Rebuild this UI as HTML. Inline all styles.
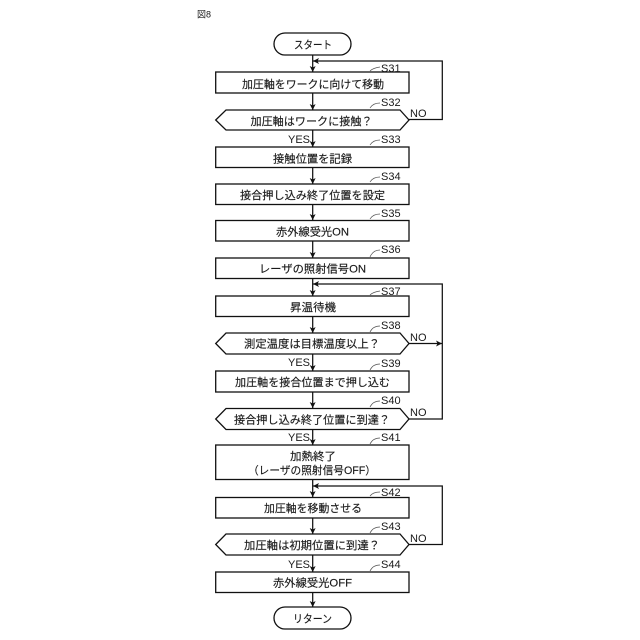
<!DOCTYPE html>
<html><head><meta charset="utf-8"><style>
html,body{margin:0;padding:0;background:#fff}
svg{display:block}
text{font-family:"Liberation Sans","Noto Sans CJK JP",sans-serif;fill:#1a1a1a}
.t{font-size:11px;text-anchor:middle;stroke:#1a1a1a;stroke-width:.15}
.l{font-size:11px}
.s{fill:#fff;stroke:#111;stroke-width:1.3}
.c{fill:none;stroke:#111;stroke-width:1.25}
.q{fill:none;stroke:#555;stroke-width:.7}
</style></head><body>
<svg width="640" height="640" viewBox="0 0 640 640" xmlns="http://www.w3.org/2000/svg">
<defs>
<marker id="a" markerUnits="userSpaceOnUse" markerWidth="7" markerHeight="7" refX="6" refY="3" orient="auto"><path d="M0 0L6 3L0 6L1.5 3z" fill="#111"/></marker>
</defs>
<text x="197" y="17.5" style="font-size:9px">図8</text>

<!-- vertical flow connectors -->
<path class="c" marker-end="url(#a)" d="M312.7 55V72"/>
<path class="c" marker-end="url(#a)" d="M312.7 93V110"/>
<path class="c" marker-end="url(#a)" d="M312.7 130V147"/>
<path class="c" marker-end="url(#a)" d="M312.7 167V184"/>
<path class="c" marker-end="url(#a)" d="M312.7 204V220"/>
<path class="c" marker-end="url(#a)" d="M312.7 241V258"/>
<path class="c" marker-end="url(#a)" d="M312.7 278V296"/>
<path class="c" marker-end="url(#a)" d="M312.7 317V333"/>
<path class="c" marker-end="url(#a)" d="M312.7 354V371"/>
<path class="c" marker-end="url(#a)" d="M312.7 392V408"/>
<path class="c" marker-end="url(#a)" d="M312.7 430V445"/>
<path class="c" marker-end="url(#a)" d="M312.7 480V497"/>
<path class="c" marker-end="url(#a)" d="M312.7 518V534"/>
<path class="c" marker-end="url(#a)" d="M312.7 555V572"/>
<path class="c" marker-end="url(#a)" d="M312.7 592V607"/>

<!-- loops -->
<path class="c" marker-end="url(#a)" d="M409 119.5H442.3V61H313"/>
<path class="c" marker-end="url(#a)" d="M409 419H442.3V284H313"/>
<path class="c" marker-end="url(#a)" d="M409 343.5H442"/>
<path class="c" marker-end="url(#a)" d="M409 544.5H442.3V486H313"/>

<!-- terminals -->
<rect class="s" x="274" y="33" width="77" height="22" rx="11"/>
<text class="t" x="313" y="48.5" textLength="38" lengthAdjust="spacingAndGlyphs">スタート</text>
<rect class="s" x="274" y="607" width="77" height="22" rx="11"/>
<text class="t" x="312.5" y="622.5" textLength="39" lengthAdjust="spacingAndGlyphs">リターン</text>

<!-- S31 -->
<rect class="s" x="215.7" y="72" width="193.3" height="21"/>
<text class="t" x="313" y="88" textLength="142" lengthAdjust="spacingAndGlyphs">加圧軸をワークに向けて移動</text>
<!-- S32 -->
<path class="s" d="M226 110H400L409 120L400 130H226L215.7 120z"/>
<text class="t" x="311.5" y="125" textLength="122" lengthAdjust="spacingAndGlyphs">加圧軸はワークに接触？</text>
<!-- S33 -->
<rect class="s" x="215.7" y="147" width="193.3" height="20.5"/>
<text class="t" x="312.5" y="162.5" textLength="79" lengthAdjust="spacingAndGlyphs">接触位置を記録</text>
<!-- S34 -->
<rect class="s" x="215.7" y="184" width="193.3" height="20.5"/>
<text class="t" x="312.5" y="199" textLength="145" lengthAdjust="spacingAndGlyphs">接合押し込み終了位置を設定</text>
<!-- S35 -->
<rect class="s" x="215.7" y="220.5" width="193.3" height="20.5"/>
<text class="t" x="312.5" y="235.5" textLength="73" lengthAdjust="spacingAndGlyphs">赤外線受光ON</text>
<!-- S36 -->
<rect class="s" x="215.7" y="258" width="193.3" height="20.5"/>
<text class="t" x="312.5" y="272.5" textLength="107" lengthAdjust="spacingAndGlyphs">レーザの照射信号ON</text>
<!-- S37 -->
<rect class="s" x="215.7" y="296" width="193.3" height="20.5"/>
<text class="t" x="313" y="311" textLength="46" lengthAdjust="spacingAndGlyphs">昇温待機</text>
<!-- S38 -->
<path class="s" d="M226 333H400L409 343.5L400 354H226L215.7 343.5z"/>
<text class="t" x="312" y="347.5" textLength="136" lengthAdjust="spacingAndGlyphs">測定温度は目標温度以上？</text>
<!-- S39 -->
<rect class="s" x="215.7" y="371" width="193.3" height="21"/>
<text class="t" x="312.5" y="386" textLength="155" lengthAdjust="spacingAndGlyphs">加圧軸を接合位置まで押し込む</text>
<!-- S40 -->
<path class="s" d="M226 408.5H400L409 419L400 429.5H226L215.7 419z"/>
<text class="t" x="312" y="423.5" textLength="156" lengthAdjust="spacingAndGlyphs">接合押し込み終了位置に到達？</text>
<!-- S41 -->
<rect class="s" x="215.7" y="445" width="193.3" height="34.5"/>
<text class="t" x="313" y="460" textLength="46" lengthAdjust="spacingAndGlyphs">加熱終了</text>
<text class="t" x="312" y="474" textLength="128" lengthAdjust="spacingAndGlyphs">（レーザの照射信号OFF）</text>
<!-- S42 -->
<rect class="s" x="215.7" y="497.5" width="193.3" height="20.5"/>
<text class="t" x="313" y="512" textLength="98" lengthAdjust="spacingAndGlyphs">加圧軸を移動させる</text>
<!-- S43 -->
<path class="s" d="M226 534H400L409 544.5L400 555H226L215.7 544.5z"/>
<text class="t" x="312" y="549" textLength="136" lengthAdjust="spacingAndGlyphs">加圧軸は初期位置に到達？</text>
<!-- S44 -->
<rect class="s" x="215.7" y="572" width="193.3" height="20.5"/>
<text class="t" x="312.5" y="586.5" textLength="79" lengthAdjust="spacingAndGlyphs">赤外線受光OFF</text>

<!-- step labels -->
<g>
<text class="l" x="381" y="72">S31</text><path class="q" d="M370 71Q373 68 380 67"/>
<text class="l" x="381" y="106">S32</text><path class="q" d="M370 108Q373 103 380 103"/>
<text class="l" x="381" y="143">S33</text><path class="q" d="M370 145Q373 140 380 140"/>
<text class="l" x="381" y="180">S34</text><path class="q" d="M370 182Q373 177 380 177"/>
<text class="l" x="381" y="217">S35</text><path class="q" d="M370 219Q373 214 380 214"/>
<text class="l" x="381" y="253">S36</text><path class="q" d="M370 257Q373 250 380 250"/>
<text class="l" x="381" y="295">S37</text><path class="q" d="M370 295Q373 292 380 291"/>
<text class="l" x="381" y="329">S38</text><path class="q" d="M370 332Q373 326 380 326"/>
<text class="l" x="381" y="367">S39</text><path class="q" d="M370 370Q373 364 380 364"/>
<text class="l" x="381" y="404">S40</text><path class="q" d="M370 407Q373 401 380 401"/>
<text class="l" x="381" y="441">S41</text><path class="q" d="M370 444Q373 438 380 438"/>
<text class="l" x="381" y="496">S42</text><path class="q" d="M370 496Q373 492 380 492"/>
<text class="l" x="381" y="530">S43</text><path class="q" d="M370 533Q373 527 380 527"/>
<text class="l" x="381" y="568">S44</text><path class="q" d="M370 571Q373 565 380 565"/>
</g>

<!-- branch labels -->
<text class="l" x="410" y="117">NO</text>
<text class="l" x="410" y="341">NO</text>
<text class="l" x="410" y="416">NO</text>
<text class="l" x="410" y="542">NO</text>
<text class="l" x="288" y="143">YES</text>
<text class="l" x="288" y="366">YES</text>
<text class="l" x="288" y="441">YES</text>
<text class="l" x="288" y="568">YES</text>
</svg>
</body></html>
